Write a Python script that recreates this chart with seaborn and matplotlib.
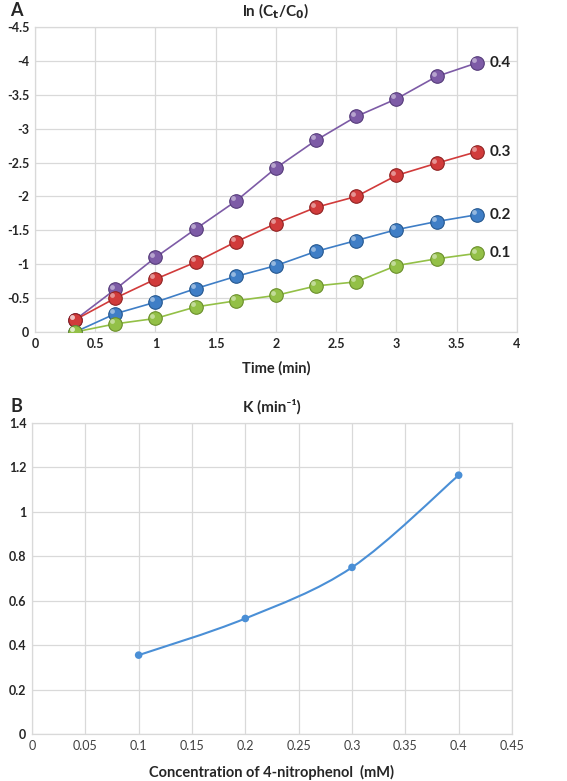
import numpy as np
import pandas as pd
import matplotlib
matplotlib.use("Agg")
import matplotlib.pyplot as plt
from matplotlib.path import Path
from matplotlib.patches import PathPatch
import seaborn as sns

# ---------- DATA ----------
time_min = [1/3, 2/3, 1, 4/3, 5/3, 2, 7/3, 8/3, 3, 10/3, 11/3]
ln_04 = [-0.18, -0.63, -1.10, -1.52, -1.93, -2.42, -2.83, -3.18, -3.44, -3.77, -3.97]
ln_03 = [-0.18, -0.50, -0.78, -1.03, -1.33, -1.60, -1.84, -2.00, -2.31, -2.49, -2.66]
ln_02 = [0.00, -0.27, -0.44, -0.64, -0.82, -0.98, -1.19, -1.35, -1.51, -1.63, -1.73]
ln_01 = [0.00, -0.12, -0.20, -0.37, -0.46, -0.54, -0.68, -0.74, -0.98, -1.08, -1.16]
conc_labels = ["0.4", "0.3", "0.2", "0.1"]
series_colors = ["#7d5ba6", "#d13b3b", "#3f7ec6", "#93c047"]
edge_colors = ["#553b7a", "#8f2222", "#24578f", "#6a8f2a"]

conc_mM = [0.1, 0.2, 0.3, 0.4]
k_min = [0.355, 0.52, 0.75, 1.165]

top_xticks = [0, 0.5, 1, 1.5, 2, 2.5, 3, 3.5, 4]
top_xticklabels = ["0", "0.5", "1", "1.5", "2", "2.5", "3", "3.5", "4"]
top_yticks = [0, -0.5, -1, -1.5, -2, -2.5, -3, -3.5, -4, -4.5]
top_yticklabels = ["0", "-0.5", "-1", "-1.5", "-2", "-2.5", "-3", "-3.5", "-4", "-4.5"]
bot_xticks = [0, 0.05, 0.1, 0.15, 0.2, 0.25, 0.3, 0.35, 0.4, 0.45]
bot_xticklabels = ["0", "0.05", "0.1", "0.15", "0.2", "0.25", "0.3", "0.35", "0.4", "0.45"]
bot_yticks = [0, 0.2, 0.4, 0.6, 0.8, 1.0, 1.2, 1.4]
bot_yticklabels = ["0", "0.2", "0.4", "0.6", "0.8", "1", "1.2", "1.4"]

df = pd.DataFrame({
    "time": time_min * 4,
    "ln": ln_04 + ln_03 + ln_02 + ln_01,
    "conc": sum([[c] * len(time_min) for c in conc_labels], []),
})

# ---------- STYLE ----------
sns.set_theme(style="whitegrid")
plt.rcParams["font.family"] = ["Lato", "DejaVu Sans"]
grid_col = "#d9d9d9"

fig = plt.figure(figsize=(5.67, 7.81), dpi=100)
ax1 = fig.add_axes([0.0617, 0.5749, 0.850, 0.3905])
ax2 = fig.add_axes([0.0564, 0.0602, 0.8466, 0.3982])

# ---------- PANEL A ----------
sns.lineplot(data=df, x="time", y="ln", hue="conc", hue_order=conc_labels,
             palette=series_colors, ax=ax1, legend=False, linewidth=1.2,
             zorder=3)
for c, col, ec in zip(conc_labels, series_colors, edge_colors):
    sub = df[df["conc"] == c]
    ax1.scatter(sub["time"], sub["ln"], s=95, color=col, edgecolor=ec,
                linewidth=0.8, zorder=4)
    ax1.scatter(sub["time"] - 0.025, sub["ln"] - 0.04, s=12, color="white",
                alpha=0.45, linewidth=0, zorder=5)
    ax1.annotate(c, (sub["time"].iloc[-1], sub["ln"].iloc[-1]),
                 xytext=(9, 0), textcoords="offset points", va="center",
                 ha="left", fontsize=11, fontweight="bold", color="#222222")

ax1.set_xlim(0, 4)
ax1.set_ylim(0, -4.5)
ax1.set_xticks(top_xticks)
ax1.set_xticklabels(top_xticklabels)
ax1.set_yticks(top_yticks)
ax1.set_yticklabels(top_yticklabels)
ax1.set_xlabel("Time (min)", fontsize=10.5, fontweight="bold", labelpad=8)
ax1.set_ylabel("")
ax1.set_title(r"ln (C$_\mathbf{t}$/C$_\mathbf{0}$)", fontsize=11,
              fontweight="bold", pad=8)
for lab in ax1.get_xticklabels() + ax1.get_yticklabels():
    lab.set_fontweight("bold")
    lab.set_fontsize(9)

# ---------- PANEL B ----------
sns.scatterplot(x=conc_mM, y=k_min, ax=ax2, s=30, color="#4a8fd6",
                edgecolor="none", zorder=4)
# smoothed connecting line (Excel-like), bezier through the data points
pts = np.column_stack([conc_mM, k_min])
verts = [tuple(pts[0])]
codes = [Path.MOVETO]
tension = 1 / 6
for i in range(len(pts) - 1):
    p0 = pts[i - 1] if i > 0 else pts[i]
    p1 = pts[i]
    p2 = pts[i + 1]
    p3 = pts[i + 2] if i + 2 < len(pts) else pts[i + 1]
    c1 = p1 + (p2 - p0) * tension
    c2 = p2 - (p3 - p1) * tension
    verts += [tuple(c1), tuple(c2), tuple(p2)]
    codes += [Path.CURVE4] * 3
ax2.add_patch(PathPatch(Path(verts, codes), facecolor="none",
                        edgecolor="#4a8fd6", linewidth=1.5, zorder=3))

ax2.set_xlim(0, 0.45)
ax2.set_ylim(0, 1.4)
ax2.set_xticks(bot_xticks)
ax2.set_xticklabels(bot_xticklabels)
ax2.set_yticks(bot_yticks)
ax2.set_yticklabels(bot_yticklabels)
ax2.set_xlabel("Concentration of 4-nitrophenol  (mM)", fontsize=10.5,
               fontweight="bold", labelpad=10)
ax2.set_title("K (min\u207b\u00b9)", fontsize=11, fontweight="bold", pad=8)
for lab in ax2.get_yticklabels():
    lab.set_fontweight("bold")
    lab.set_fontsize(9)
for lab in ax2.get_xticklabels():
    lab.set_fontsize(9)
    lab.set_color("#404040")

for ax in (ax1, ax2):
    ax.grid(True, color=grid_col, linewidth=0.9)
    ax.tick_params(axis="both", length=0, pad=4)
    for side, sp in ax.spines.items():
        sp.set_color(grid_col)
        sp.set_linewidth(0.9)
    ax.set_facecolor("white")

fig.text(0.018, 0.9795, "A", fontsize=13, fontweight="bold", va="baseline")
fig.text(0.018, 0.4725, "B", fontsize=13, fontweight="bold", va="baseline")

fig.savefig("out.png", dpi=100, facecolor="white")
